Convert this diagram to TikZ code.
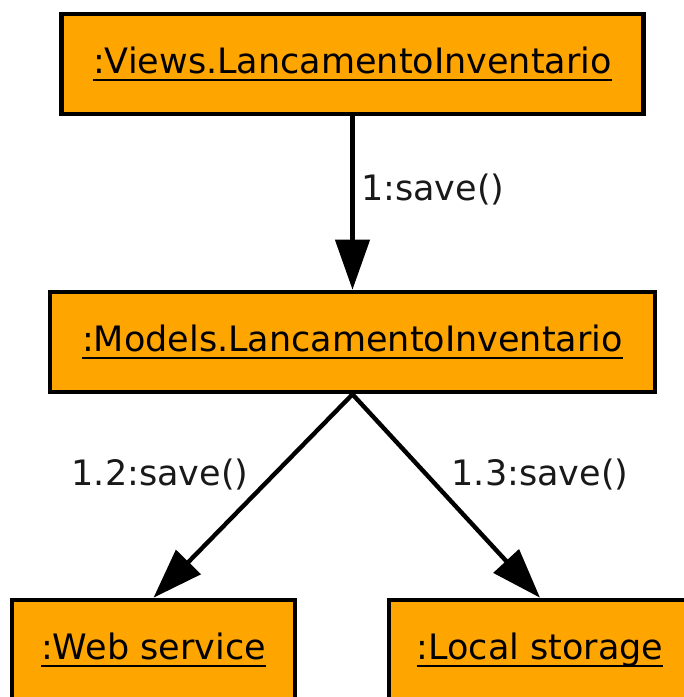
\documentclass[tikz,border=0pt]{standalone}
\usepackage{fontspec}
\setmainfont{DejaVu Sans}
\usetikzlibrary{arrows.meta}
\definecolor{objfill}{HTML}{FFA500}
% underlined object name with a fixed rule below the baseline
\newcommand\objname[1]{\setbox0\hbox{#1}\rlap{\rule[-8pt]{\wd0}{2.8pt}}\box0}
\tikzset{
  obj/.style={draw=black, fill=objfill, line width=4.6pt, inner sep=0pt,
    minimum height=100pt, font=\fontsize{35}{42}\selectfont},
  msg/.style={draw=black, line width=4.4pt,
    -{Triangle[length=50pt,width=34pt]}},
  lbl/.style={font=\fontsize{35}{42}\selectfont, inner sep=0pt, text=black!90}
}
\begin{document}
\begin{tikzpicture}[x=1pt,y=-1pt]
\useasboundingbox (0,0) rectangle (684,697);
\node[obj, minimum width=582pt] (views) at (352.5,64) {\objname{:Views.LancamentoInventario}};
\node[obj, minimum width=605pt] (models) at (352.5,342) {\objname{:Models.LancamentoInventario}};
\node[obj, minimum width=283pt] (web) at (153.5,650) {\objname{:Web service}};
\node[obj, minimum width=302pt] (local) at (540,650) {\objname{:Local storage}};
\draw[msg] (views.south) -- (models.north);
\draw[msg] (models.south) -- (web.north);
\draw[msg] (models.south) -- (local.north);
\node[lbl, anchor=west] (l1) at (361,190) {1:save()};
\node[lbl] (l12) at (160,475) {1.2:save()};
\node[lbl] (l13) at (540,475) {1.3:save()};
\end{tikzpicture}
\end{document}
